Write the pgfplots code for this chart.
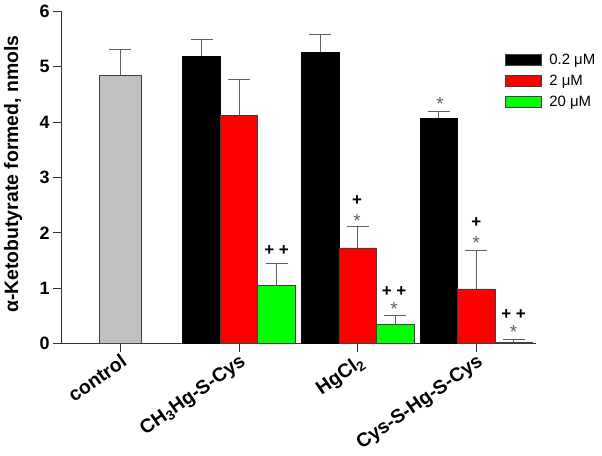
\documentclass[border=0pt]{standalone}
\usepackage{fontspec}
\setmainfont{Liberation Sans}
\usepackage{pgfplots}
\pgfplotsset{compat=1.18}
\definecolor{barred}{RGB}{255,0,0}
\definecolor{bargreen}{RGB}{0,255,0}
\definecolor{bargray}{RGB}{192,192,192}
\definecolor{errgray}{RGB}{96,96,96}
\begin{document}
\begin{tikzpicture}
\useasboundingbox (-61bp,-112.3bp) rectangle (541bp,343.7bp);
\begin{axis}[
  scale only axis,
  width=474.7bp, height=332.4bp,
  at={(0,0)}, anchor=south west,
  xmin=-0.5, xmax=3.5,
  ymin=0, ymax=6,
  axis lines=left,
  axis line style={-, black!80, line width=0.8bp},
  tick style={black!80, line width=0.8bp},
  tick align=outside,
  major tick length=8bp,
  xtick={0,1,2,3},
  xticklabels={control, CH\textsubscript{3}Hg-S-Cys, HgCl\textsubscript{2}, Cys-S-Hg-S-Cys},
  ytick={0,1,2,3,4,5,6},
  /pgf/number format/assume math mode=true,
  y tick label style={font=\bfseries\fontsize{18}{18}\selectfont},
  x tick label style={font=\bfseries\fontsize{19.5}{19.5}\selectfont, rotate=35, anchor=north east, inner sep=1bp},
  every axis y label/.style={at={(axis description cs:-0.101,0.51)}, rotate=90, anchor=center},
  ylabel={\bfseries\fontsize{19.5}{19.5}\selectfont α-Ketobutyrate formed, nmols},
  ybar,
  error bars/y dir=plus,
  error bars/y explicit,
  error bars/error bar style={errgray, line width=0.9bp},
  error bars/error mark options={rotate=90, mark size=11bp, errgray, line width=0.9bp},
  legend style={at={(axis description cs:0.935,0.878)}, anchor=north west, draw=none, fill=none,
    inner sep=0pt, row sep=5bp, font=\fontsize{15}{15}\selectfont, cells={anchor=west}},
  legend image code/.code={\draw[#1, draw=black!75, line width=0.6bp] (0bp,-5.5bp) rectangle (35.6bp,5.5bp); \path[draw=none, fill=none] (0bp,0bp) -- (42bp,0bp);},
  clip=false,
]
\addplot[fill=bargray, draw=black!75, line width=0.7bp, bar width=41.7bp, bar shift=0bp, forget plot]
  coordinates {(0,4.85) +- (0,0.47)};
\addplot[fill=black, draw=black, line width=0.7bp, bar width=37.5bp, bar shift=-37.5bp]
  coordinates {(1,5.19) +- (0,0.30) (2,5.26) +- (0,0.32) (3,4.07) +- (0,0.12)};
\addlegendentry{0.2 μM}
\addplot[fill=barred, draw=black!75, line width=0.7bp, bar width=37.5bp, bar shift=0bp]
  coordinates {(1,4.12) +- (0,0.65) (2,1.73) +- (0,0.38) (3,0.99) +- (0,0.70)};
\addlegendentry{2 μM}
\addplot[fill=bargreen, draw=black!75, line width=0.7bp, bar width=37.5bp, bar shift=37.5bp]
  coordinates {(1,1.05) +- (0,0.40) (2,0.35) +- (0,0.16) (3,0.02) +- (0,0.05)};
\addlegendentry{20 μM}
% significance marks
\tikzset{plusmark/.style={font=\bfseries\fontsize{17}{17}\selectfont, black},
         starmark/.style={font=\fontsize{19}{19}\selectfont, errgray}}
\node[plusmark] at (axis cs:1.316,1.69) {+ +};
\node[plusmark] at (axis cs:1.995,2.58) {+};
\node[starmark] at (axis cs:1.995,2.22) {*};
\node[plusmark] at (axis cs:2.307,0.95) {+ +};
\node[starmark] at (axis cs:2.307,0.63) {*};
\node[starmark] at (axis cs:2.695,4.33) {*};
\node[plusmark] at (axis cs:3.0,2.18) {+};
\node[starmark] at (axis cs:3.0,1.82) {*};
\node[plusmark] at (axis cs:3.313,0.52) {+ +};
\node[starmark] at (axis cs:3.313,0.21) {*};
\end{axis}
\end{tikzpicture}
\end{document}
